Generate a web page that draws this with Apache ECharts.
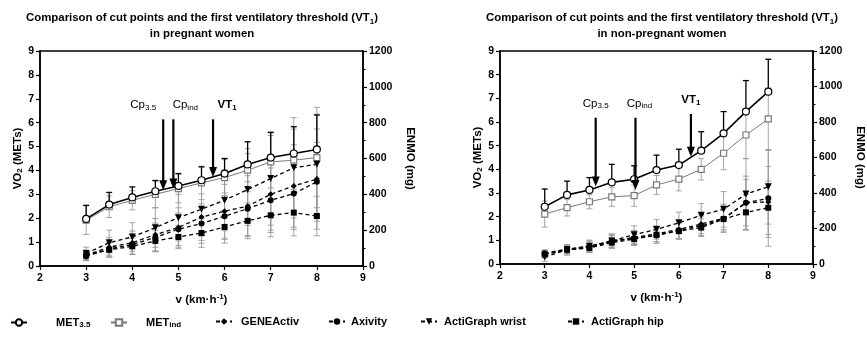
<!DOCTYPE html>
<html><head><meta charset="utf-8">
<script src="https://cdn.jsdelivr.net/npm/echarts@6/dist/echarts.min.js"></script>
<style>html,body{margin:0;padding:0;background:#fff}#c{width:867px;height:343px}</style>
</head><body><div id="c"></div>
<script>
// ---- data ----
const speeds = [3, 3.5, 4, 4.5, 5, 5.5, 6, 6.5, 7, 7.5, 8];
const xTicks = [2, 3, 4, 5, 6, 7, 8, 9];

// pregnant women (left)
const pregMet35   = [1.97, 2.57, 2.87, 3.13, 3.35, 3.59, 3.87, 4.25, 4.54, 4.71, 4.88];
const pregMet35Sd = [0.57, 0.51, 0.44, 0.45, 0.52, 0.56, 0.63, 0.95, 1.05, 1.12, 1.44];
const pregMetInd  = [1.92, 2.48, 2.75, 3.00, 3.24, 3.48, 3.70, 4.01, 4.36, 4.43, 4.54];
const pregMetIndSd= [0.60, 0.45, 0.40, 0.55, 0.60, 0.70, 0.75, 0.90, 1.10, 1.30, 2.10];
const pregGene    = [60, 105, 130, 175, 215, 273, 306, 334, 400, 447, 485];
const pregGeneSd  = [30, 55, 65, 90, 110, 130, 150, 170, 200, 230, 280];
const pregAxiv    = [55, 95, 120, 160, 205, 237, 278, 320, 367, 404, 470];
const pregAxivSd  = [25, 45, 55, 80, 90, 110, 130, 150, 180, 200, 220];
const pregWrist   = [70, 130, 162, 214, 270, 317, 367, 427, 488, 548, 568];
const pregWristSd = [35, 70, 80, 110, 130, 150, 170, 200, 260, 280, 280];
const pregHip     = [60, 90, 110, 140, 162, 184, 218, 252, 283, 298, 279];
const pregHipSd   = [25, 40, 45, 60, 65, 80, 90, 100, 120, 130, 110];

// non-pregnant women (right)
const npMet35   = [2.42, 2.92, 3.13, 3.45, 3.58, 3.97, 4.18, 4.79, 5.52, 6.44, 7.28];
const npMet35Sd = [0.75, 0.58, 0.52, 0.76, 0.57, 0.63, 0.67, 0.80, 0.92, 1.31, 1.37];
const npMetInd  = [2.11, 2.38, 2.63, 2.84, 2.89, 3.34, 3.59, 4.00, 4.68, 5.45, 6.13];
const npMetIndSd= [0.55, 0.35, 0.30, 0.40, 0.45, 0.40, 0.50, 0.45, 0.70, 1.00, 1.30];
const npGene    = [55, 80, 95, 125, 150, 170, 195, 225, 257, 345, 350];
const npGeneSd  = [20, 25, 30, 35, 40, 45, 50, 55, 80, 150, 200];
const npAxiv    = [60, 85, 100, 130, 145, 160, 190, 215, 255, 345, 370];
const npAxivSd  = [20, 25, 30, 35, 40, 45, 50, 55, 70, 130, 270];
const npWrist   = [40, 80, 100, 130, 165, 195, 232, 275, 308, 394, 435];
const npWristSd = [25, 30, 35, 40, 50, 55, 60, 65, 100, 200, 210];
const npHip     = [55, 80, 90, 120, 140, 165, 185, 205, 253, 291, 317];
const npHipSd   = [20, 20, 25, 30, 35, 40, 45, 50, 60, 100, 150];

// cut points / threshold arrows: speed, arrow top (METs), arrow tip (METs)
const arrowLabels = ['Cp{s|3.5}', 'Cp{s|ind}', 'VT{s|1}'];
const pregArrowX   = [4.67, 4.89, 5.75];
const pregArrowTop = [6.14, 6.14, 6.14];
const pregArrowTip = [3.17, 3.24, 3.73];
const npArrowX   = [4.14, 5.03, 6.27];
const npArrowTop = [6.18, 6.18, 6.34];
const npArrowTip = [3.27, 3.13, 4.53];

const seriesNames = ['MET3.5', 'METind', 'GENEActiv', 'Axivity', 'ActiGraph wrist', 'ActiGraph hip'];
const legendLabels = ['MET{s|3.5}', 'MET{s|ind}', 'GENEActiv', 'Axivity', 'ActiGraph wrist', 'ActiGraph hip'];
const titles = ['Comparison of cut points and the first ventilatory threshold (VT{s|1})\nin pregnant women',
                'Comparison of cut points and the first ventilatory threshold (VT{s|1})\nin non-pregnant women'];

// ---- layout / style ----
const FONT = 'Liberation Sans, Arial, Helvetica, sans-serif';
const mkSub = (fs, fw) => ({ s: { fontSize: fs, fontWeight: fw, fontFamily: FONT, verticalAlign: 'bottom', lineHeight: 13, padding: [5, 0, 0, 0] } });
const subRich = mkSub(8, 'bold');
const grids = [
  { left: 40, right: 504, top: 51, bottom: 77 },
  { left: 500, right: 45, top: 51, bottom: 79 }
];
const zip = (xs, ys) => xs.map((x, i) => [x, ys[i]]);
const zip3 = (xs, ys, zs) => xs.map((x, i) => [x, ys[i], zs[i]]);

function errRender(color, upperOnly, lw) {
  return function (params, api) {
    const x = api.value(0), m = api.value(1), s = api.value(2);
    const top = api.coord([x, m + s]);
    const bot = api.coord([x, upperOnly ? m : Math.max(0, m - s)]);
    const hw = 3;
    const st = { stroke: color, lineWidth: lw };
    const ch = [
      { type: 'line', shape: { x1: top[0], y1: top[1], x2: bot[0], y2: bot[1] }, style: st },
      { type: 'line', shape: { x1: top[0] - hw, y1: top[1], x2: top[0] + hw, y2: top[1] }, style: st }
    ];
    if (!upperOnly) ch.push({ type: 'line', shape: { x1: bot[0] - hw, y1: bot[1], x2: bot[0] + hw, y2: bot[1] }, style: st });
    return { type: 'group', children: ch };
  };
}
function arrowRender(shifts) {
  return function (params, api) {
    const x = api.value(0);
    const top = api.coord([x, api.value(1)]);
    const tip = api.coord([x, api.value(2)]);
    const hh = 10, hw = 4;
    const i = params.dataIndex;
    const isVT = i === 2;
    const fw = isVT ? 'bold' : 'normal';
    return { type: 'group', children: [
      { type: 'line', shape: { x1: top[0], y1: top[1], x2: tip[0], y2: tip[1] - hh + 1 }, style: { stroke: '#000', lineWidth: 2.2 } },
      { type: 'polygon', shape: { points: [[tip[0] - hw, tip[1] - hh], [tip[0] + hw, tip[1] - hh], [tip[0], tip[1]]] }, style: { fill: '#000' } },
      { type: 'text', x: top[0] + shifts[i], y: top[1] - 14,
        style: { text: arrowLabels[i], align: 'center', verticalAlign: 'middle', fill: '#000',
          fontSize: 11.5, fontWeight: fw, fontFamily: FONT, rich: mkSub(8, fw) } }
    ] };
  };
}

const markerDefs = {
  'MET3.5':          { symbol: 'circle', size: 7, color: '#000', fill: '#fff', line: { type: 'solid', width: 1.6, color: '#000' } },
  'METind':          { symbol: 'rect', size: 6, color: '#7a7a7a', fill: '#fff', line: { type: 'solid', width: 1, color: '#7a7a7a' } },
  'GENEActiv':       { symbol: 'diamond', size: 6, color: '#000', fill: '#000', line: { type: [4, 3], width: 1.3, color: '#000' } },
  'Axivity':         { symbol: 'circle', size: 6, color: '#000', fill: '#000', line: { type: [4, 3], width: 1.3, color: '#000' } },
  'ActiGraph wrist': { symbol: 'triangle', size: 7, rotate: 180, color: '#000', fill: '#000', line: { type: [4, 3], width: 1.3, color: '#000' } },
  'ActiGraph hip':   { symbol: 'rect', size: 6, color: '#000', fill: '#000', line: { type: [4, 3], width: 1.3, color: '#000' } }
};

function lineSeries(name, gi, yi, xs, ys) {
  const d = markerDefs[name];
  return {
    type: 'line', name, xAxisIndex: gi, yAxisIndex: gi * 2 + yi,
    data: zip(xs, ys), symbol: d.symbol, symbolSize: d.size, symbolRotate: d.rotate || 0,
    showAllSymbol: true, animation: false, z: name === 'MET3.5' ? 6 : 5,
    lineStyle: d.line, itemStyle: { color: d.fill, borderColor: d.color, borderWidth: d.fill === '#fff' ? 1.2 : 0 }
  };
}
function errSeries(gi, yi, xs, ys, sds, color, upperOnly, lw) {
  return {
    type: 'custom', xAxisIndex: gi, yAxisIndex: gi * 2 + yi, data: zip3(xs, ys, sds),
    renderItem: errRender(color, upperOnly, lw), z: 2, silent: true, animation: false,
    encode: { x: 0, y: [1] }
  };
}
function arrowSeries(gi, xs, tops, tips, shifts) {
  return {
    type: 'custom', xAxisIndex: gi, yAxisIndex: gi * 2, data: zip3(xs, tops, tips),
    renderItem: arrowRender(shifts), z: 10, silent: true, animation: false,
    encode: { x: 0, y: [1, 2] }
  };
}

const axisLabelStyle = { color: '#000', fontSize: 10.5, fontWeight: 'bold', fontFamily: FONT };
const nameStyle = { color: '#000', fontSize: 11.5, fontWeight: 'bold', fontFamily: FONT };
const axisLine = { show: true, lineStyle: { color: '#000', width: 1.5 } };
const xAxes = grids.map((g, i) => ({
  type: 'value', gridIndex: i, min: xTicks[0], max: xTicks[xTicks.length - 1], interval: 1,
  axisLine, axisTick: { show: true, length: 4, lineStyle: { color: '#000', width: 1.2 } },
  axisLabel: { ...axisLabelStyle, margin: 7 }, splitLine: { show: false },
  name: 'v (km·h{p|-1})', nameLocation: 'middle', nameGap: 27,
  nameTextStyle: { ...nameStyle, rich: { p: { fontSize: 8, fontWeight: 'bold', fontFamily: FONT, verticalAlign: 'top', lineHeight: 13, padding: [0, 0, 5, 0] } } }
}));
const yAxes = [];
grids.forEach((g, i) => {
  yAxes.push({
    type: 'value', gridIndex: i, position: 'left', min: 0, max: 9, interval: 1,
    axisLine, axisTick: { show: true, length: 4, lineStyle: { color: '#000', width: 1.2 } },
    axisLabel: { ...axisLabelStyle, margin: 6 }, splitLine: { show: false },
    name: 'VO{s|2} (METs)', nameLocation: 'middle', nameGap: 16, nameRotate: 90,
    nameTextStyle: { ...nameStyle, rich: subRich }
  });
  yAxes.push({
    type: 'value', gridIndex: i, position: 'right', min: 0, max: 1200, interval: 200,
    axisLine, axisTick: { show: true, length: 4, lineStyle: { color: '#000', width: 1.2 } },
    minorTick: { show: true, splitNumber: 2, length: 2.5, lineStyle: { color: '#000', width: 1 } },
    axisLabel: { ...axisLabelStyle, margin: 6, formatter: v => String(v) }, splitLine: { show: false },
    name: 'ENMO (mg)', nameLocation: 'middle', nameGap: 41, nameRotate: -90,
    nameTextStyle: { ...nameStyle }
  });
});

const series = [];
const sets = [
  { met35: pregMet35, met35Sd: pregMet35Sd, metInd: pregMetInd, metIndSd: pregMetIndSd,
    dev: [[pregGene, pregGeneSd], [pregAxiv, pregAxivSd], [pregWrist, pregWristSd], [pregHip, pregHipSd]],
    ax: pregArrowX, at: pregArrowTop, ap: pregArrowTip, shifts: [-20, 12, 14] },
  { met35: npMet35, met35Sd: npMet35Sd, metInd: npMetInd, metIndSd: npMetIndSd,
    dev: [[npGene, npGeneSd], [npAxiv, npAxivSd], [npWrist, npWristSd], [npHip, npHipSd]],
    ax: npArrowX, at: npArrowTop, ap: npArrowTip, shifts: [0, 4, 0] }
];
sets.forEach((s, gi) => {
  s.dev.forEach(([v, sd]) => series.push(errSeries(gi, 1, speeds, v, sd, '#9a9a9a', false, 0.9)));
  series.push(errSeries(gi, 0, speeds, s.metInd, s.metIndSd, '#9a9a9a', false, 0.9));
  series.push(errSeries(gi, 0, speeds, s.met35, s.met35Sd, '#000', true, 1.3));
  series.push(lineSeries('MET3.5', gi, 0, speeds, s.met35));
  series.push(lineSeries('METind', gi, 0, speeds, s.metInd));
  series.push(lineSeries('GENEActiv', gi, 1, speeds, s.dev[0][0]));
  series.push(lineSeries('Axivity', gi, 1, speeds, s.dev[1][0]));
  series.push(lineSeries('ActiGraph wrist', gi, 1, speeds, s.dev[2][0]));
  series.push(lineSeries('ActiGraph hip', gi, 1, speeds, s.dev[3][0]));
  series.push(arrowSeries(gi, s.ax, s.at, s.ap, s.shifts));
});

const legendLefts = [10, 110, 215, 328, 420, 567];
const legendGaps = [24, 14, 4, 1, 2, 2];
const legends = seriesNames.map((n, i) => ({
  data: [n], left: legendLefts[i], top: 316, itemWidth: 16, itemHeight: 8, itemGap: 0, padding: 0,
  selectedMode: false,
  formatter: () => '{g|}' + legendLabels[i],
  textStyle: { color: '#000', fontSize: 11, fontWeight: 'bold', fontFamily: FONT, rich: { g: { width: legendGaps[i] }, s: subRich.s } }
}));

const chart = echarts.init(document.getElementById('c'), null, { renderer: 'canvas' });
chart.setOption({
  backgroundColor: '#fff',
  animation: false,
  title: titles.map((t, i) => ({
    text: t, left: [202, 662][i], top: 10, textAlign: 'center', padding: 0,
    textStyle: { fontSize: 11.4, fontWeight: 'bold', fontFamily: FONT, color: '#000', lineHeight: 16, rich: subRich }
  })),
  grid: grids.map(g => ({ ...g, show: true, borderColor: '#000', borderWidth: 1.5, containLabel: false })),
  xAxis: xAxes,
  yAxis: yAxes,
  legend: legends,
  series
});
</script></body></html>
